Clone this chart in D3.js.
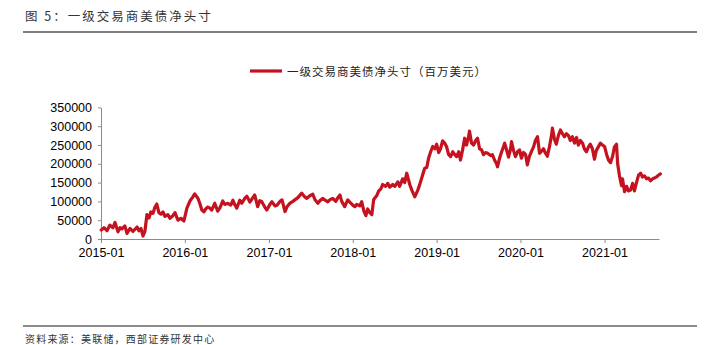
<!DOCTYPE html>
<html>
<head>
<meta charset="utf-8">
<script src="https://cdn.jsdelivr.net/npm/d3@7"></script>
<style>
  html, body { margin: 0; padding: 0; background: #fff; }
  svg { display: block; }
  .axis text { font-family: "Liberation Sans", Arial, sans-serif; font-size: 12.5px; fill: #000; }
  .axis path, .axis line { stroke: #8c8c8c; }
  .cjk { font-family: "Noto Sans CJK SC", sans-serif; }
</style>
</head>
<body>
<svg id="chart" width="717" height="345"></svg>
<script>
const titleText = "图 5：一级交易商美债净头寸";
const seriesName = "一级交易商美债净头寸（百万美元）";
const sourceText = "资料来源：美联储，西部证券研发中心";

const xTickLabels = ["2015-01","2016-01","2017-01","2018-01","2019-01","2020-01","2021-01"];
const yTickValues = [0,50000,100000,150000,200000,250000,300000,350000];

const dates = [
  "2015-01-02","2015-01-14","2015-01-27","2015-02-09","2015-02-22","2015-03-03","2015-03-16","2015-03-25","2015-04-02","2015-04-15",
  "2015-04-24","2015-05-07","2015-05-20","2015-05-29","2015-06-07","2015-06-15","2015-06-24","2015-07-03","2015-07-11","2015-07-20",
  "2015-07-29","2015-08-06","2015-08-15","2015-08-24","2015-09-01","2015-09-10","2015-09-19","2015-09-28","2015-10-06","2015-10-19",
  "2015-10-28","2015-11-10","2015-11-19","2015-12-02","2015-12-15","2015-12-28",
  "2016-01-10","2016-01-23","2016-02-05","2016-02-13","2016-02-27","2016-03-06","2016-03-15","2016-03-24","2016-04-01","2016-04-10",
  "2016-04-19","2016-04-27","2016-05-10","2016-05-23","2016-06-01","2016-06-14","2016-06-23","2016-07-06","2016-07-19","2016-07-28",
  "2016-08-05","2016-08-14","2016-08-27","2016-09-05","2016-09-18","2016-09-27","2016-10-10","2016-10-23","2016-10-31","2016-11-13",
  "2016-11-22","2016-12-01","2016-12-14","2016-12-23",
  "2017-01-05","2017-01-14","2017-01-27","2017-02-05","2017-02-18","2017-02-27","2017-03-12","2017-03-20","2017-04-02","2017-04-15",
  "2017-04-24","2017-05-07","2017-05-24","2017-06-06","2017-06-15","2017-06-28","2017-07-11","2017-07-20","2017-08-02","2017-08-11",
  "2017-08-24","2017-09-01","2017-09-14","2017-09-27","2017-10-06","2017-10-19","2017-10-28","2017-11-06","2017-11-14","2017-11-27",
  "2017-12-10","2017-12-19",
  "2018-01-01","2018-01-10","2018-01-18","2018-01-31","2018-02-09","2018-02-18","2018-02-27","2018-03-07","2018-03-16","2018-03-25",
  "2018-04-02","2018-04-15","2018-04-24","2018-05-03","2018-05-11","2018-05-24","2018-06-02","2018-06-11","2018-06-24","2018-07-03",
  "2018-07-16","2018-07-24","2018-08-06","2018-08-15","2018-08-24","2018-09-06","2018-09-15","2018-09-28","2018-10-11","2018-10-19",
  "2018-11-01","2018-11-10","2018-11-19","2018-11-27","2018-12-06","2018-12-15","2018-12-24",
  "2019-01-01","2019-01-10","2019-01-18","2019-01-27","2019-02-05","2019-02-13","2019-02-22","2019-03-03","2019-03-12","2019-03-20",
  "2019-03-29","2019-04-07","2019-04-15","2019-04-24","2019-05-03","2019-05-11","2019-05-20","2019-05-24","2019-06-02","2019-06-11",
  "2019-06-20","2019-06-28","2019-07-07","2019-07-16","2019-07-24","2019-08-02","2019-08-11","2019-08-24","2019-09-01","2019-09-10",
  "2019-09-19","2019-09-23","2019-10-02","2019-10-11","2019-10-19","2019-10-24","2019-11-01","2019-11-10","2019-11-19","2019-11-23",
  "2019-12-02","2019-12-10","2019-12-19","2019-12-28",
  "2020-01-05","2020-01-14","2020-01-23","2020-01-31","2020-02-09","2020-02-18","2020-02-27","2020-03-06","2020-03-15","2020-03-24",
  "2020-04-01","2020-04-10","2020-04-19","2020-04-27","2020-05-06","2020-05-15","2020-05-19","2020-05-28","2020-06-05","2020-06-14",
  "2020-06-23","2020-07-02","2020-07-10","2020-07-19","2020-07-28","2020-08-05","2020-08-14","2020-08-23","2020-09-01","2020-09-09",
  "2020-09-18","2020-09-27","2020-10-05","2020-10-14","2020-10-23","2020-10-31","2020-11-09","2020-11-18","2020-11-26","2020-12-05",
  "2020-12-14","2020-12-23",
  "2021-01-01","2021-01-10","2021-01-18","2021-01-27","2021-02-05","2021-02-13","2021-02-22","2021-02-27","2021-03-07","2021-03-16",
  "2021-03-20","2021-03-29","2021-04-07","2021-04-15","2021-04-24","2021-05-03","2021-05-11","2021-05-20","2021-05-29","2021-06-07",
  "2021-06-15","2021-06-24","2021-07-03","2021-07-11","2021-07-20","2021-07-29","2021-08-06","2021-08-15","2021-08-24","2021-09-01"
];

const values = [
  24000,30000,22000,37000,30000,44000,19000,30000,27000,35000,
  15000,28000,20000,26000,32000,22000,28000,8000,20000,65000,
  56000,72000,68000,85000,93000,70000,66000,72000,60000,65000,
  55000,62000,70000,50000,55000,48000,
  82000,101000,112000,120000,108000,95000,77000,72000,80000,85000,
  82000,77000,95000,74000,82000,101000,92000,95000,90000,103000,
  92000,82000,103000,95000,108000,114000,98000,110000,117000,86000,
  102000,99000,85000,77000,
  92000,99000,88000,90000,100000,104000,73000,85000,95000,100000,
  104000,110000,122000,112000,108000,115000,119000,105000,95000,102000,
  108000,104000,99000,106000,108000,100000,110000,117000,100000,86000,
  104000,98000,
  90000,86000,92000,88000,99000,75000,62000,80000,70000,65000,
  105000,115000,128000,133000,145000,140000,148000,138000,145000,140000,
  152000,140000,160000,150000,175000,145000,130000,112000,130000,144000,
  170000,188000,190000,215000,232000,246000,240000,
  252000,230000,240000,261000,255000,246000,225000,219000,232000,225000,
  219000,232000,210000,237000,268000,250000,272000,287000,255000,250000,
  262000,268000,240000,237000,224000,230000,228000,222000,224000,210000,
  200000,192000,215000,232000,245000,255000,238000,218000,240000,259000,
  235000,219000,232000,237000,
  215000,230000,225000,197000,220000,233000,245000,262000,272000,228000,
  233000,240000,228000,220000,245000,275000,295000,265000,252000,275000,
  290000,280000,272000,280000,275000,262000,272000,255000,270000,250000,
  262000,255000,240000,232000,245000,252000,240000,212000,235000,245000,
  255000,250000,
  246000,225000,210000,203000,220000,245000,252000,200000,168000,142000,
  160000,126000,140000,128000,130000,148000,128000,150000,170000,175000,
  165000,168000,160000,162000,155000,160000,162000,165000,170000,173000
];

const lineColor = "#C4121F";
const parse = d3.timeParse("%Y-%m-%d");
const parseTick = d3.timeParse("%Y-%m");
const data = dates.map((d, i) => ({ date: parse(d), value: values[i] }));

const svg = d3.select("#chart");
svg.append("rect").attr("width", 717).attr("height", 345).attr("fill", "#fff");

// Title and rules
svg.append("text").attr("class", "cjk").attr("x", 25).attr("y", 21)
  .attr("font-size", 12.5).attr("letter-spacing", 2).attr("fill", "#333").text(titleText);
svg.append("line").attr("x1", 23).attr("x2", 697).attr("y1", 32).attr("y2", 32)
  .attr("stroke", "#555").attr("stroke-width", 1.3);
svg.append("line").attr("x1", 23).attr("x2", 697).attr("y1", 326).attr("y2", 326)
  .attr("stroke", "#666").attr("stroke-width", 1.3);
svg.append("text").attr("class", "cjk").attr("x", 25).attr("y", 342.5)
  .attr("font-size", 10).attr("letter-spacing", 1.2).attr("fill", "#333").text(sourceText);

// Legend
svg.append("line").attr("x1", 250).attr("x2", 282).attr("y1", 71).attr("y2", 71)
  .attr("stroke", lineColor).attr("stroke-width", 3.2);
svg.append("text").attr("class", "cjk").attr("x", 287).attr("y", 75.5)
  .attr("font-size", 11.5).attr("letter-spacing", 1).attr("fill", "#222").text(seriesName);

// Scales
const x = d3.scaleTime()
  .domain([parse("2015-01-01"), parse("2021-08-26")])
  .range([101, 659]);
const y = d3.scaleLinear().domain([0, 350000]).range([239, 107.4]);

const xAxis = d3.axisBottom(x)
  .tickValues(xTickLabels.map(parseTick))
  .tickFormat(d3.timeFormat("%Y-%m"))
  .tickSize(4).tickSizeOuter(0).tickPadding(5);
svg.append("g").attr("class", "axis").attr("transform", "translate(0,239)").call(xAxis);

const yAxis = d3.axisLeft(y)
  .tickValues(yTickValues)
  .tickFormat(d => String(d))
  .tickSize(3).tickSizeOuter(0).tickPadding(6);
svg.append("g").attr("class", "axis").attr("transform", "translate(101,0)").call(yAxis);

// Line
const line = d3.line().x(d => x(d.date)).y(d => y(d.value)).curve(d3.curveLinear);
svg.append("path").datum(data)
  .attr("fill", "none").attr("stroke", lineColor).attr("stroke-width", 3.2)
  .attr("stroke-linejoin", "round").attr("stroke-linecap", "round")
  .attr("d", line);
</script>
</body>
</html>
